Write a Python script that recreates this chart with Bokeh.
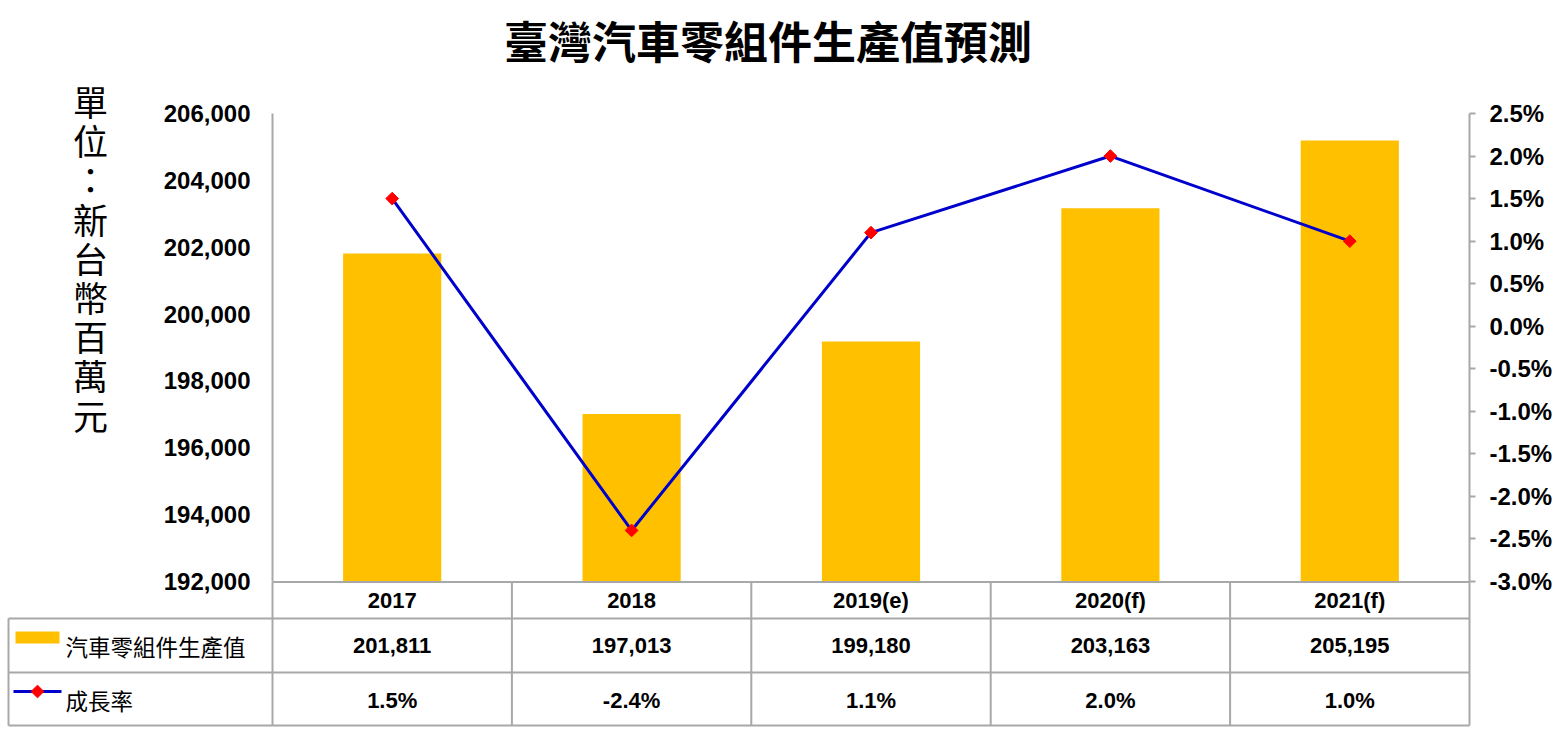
import numpy as np
from bokeh.plotting import figure
from bokeh.models import (FactorRange, Range1d, LinearAxis, FixedTicker, PrintfTickFormatter,
                          NumeralTickFormatter)
from bokeh.core.properties import value
from bokeh.embed import file_html
from bokeh.resources import INLINE

# ---------------- data ----------------
categories = ["2017", "2018", "2019(e)", "2020(f)", "2021(f)"]
production = [201811, 197013, 199180, 203163, 205195]   # 新台幣百萬元
growth = [1.5, -2.4, 1.1, 2.0, 1.0]                       # %
left_ticks = list(range(192000, 206001, 2000))
right_ticks = [-3.0, -2.5, -2.0, -1.5, -1.0, -0.5, 0.0, 0.5, 1.0, 1.5, 2.0, 2.5]
title_text = "臺灣汽車零組件生產值預測"
ylabel_text = "單位：新台幣百萬元"
series_names = ["汽車零組件生產值", "成長率"]

# ---------------- style / layout (page pixels) ----------------
BAR = "#FFC000"
LINE = "#0000CC"
MARK = "#FF0000"
GRAY = "#A8A8A8"
NUMFONT = "Liberation Sans"
CJK = "Noto Sans CJK TC"

W, H = 1557, 730
FR_L, FR_R = 272, 1469             # frame left/right (page x)
FR_T, AX_B, FR_B = 113, 581, 727   # frame top, axis bottom, frame bottom (page y)
COL = (FR_R - FR_L) / len(categories)

lo, hi = left_ticks[0], left_ticks[-1]
k = (hi - lo) / (AX_B - FR_T)                     # value per px (left)
plo, phi = right_ticks[0], right_ticks[-1]
kp = (phi - plo) / (AX_B - FR_T)                  # value per px (right)


def xpx(xpage):
    return (xpage - FR_L) / COL


def ypx(ypage):
    return hi - (ypage - FR_T) * k


p = figure(width=W, height=H, x_range=FactorRange(*categories),
           y_range=Range1d(lo - (FR_B - AX_B) * k, hi),
           output_backend="svg", toolbar_location=None,
           min_border_left=FR_L, min_border_right=W - FR_R,
           min_border_top=FR_T, min_border_bottom=H - FR_B)
p.extra_y_ranges = {"pct": Range1d(plo - (FR_B - AX_B) * kp, phi)}
p.xaxis.visible = False
p.xgrid.visible = False
p.ygrid.visible = False
p.outline_line_color = None

ya = p.yaxis[0]
ya.bounds = (lo, hi)
ya.ticker = FixedTicker(ticks=left_ticks)
ya.formatter = NumeralTickFormatter(format="0,0")
ya.major_tick_in = 0
ya.major_tick_out = 0
ya.minor_tick_in = 0
ya.minor_tick_out = 0
ya.axis_line_color = GRAY
ya.axis_line_width = 2
ya.major_label_standoff = 22
ya.major_label_text_font = NUMFONT
ya.major_label_text_font_style = "bold"
ya.major_label_text_font_size = "24px"
ya.major_label_text_color = "black"

ra = LinearAxis(y_range_name="pct", ticker=FixedTicker(ticks=right_ticks),
                formatter=PrintfTickFormatter(format="%.1f%%"), bounds=(plo, phi))
ra.major_tick_in = 0
ra.major_tick_out = 6
ra.minor_tick_in = 0
ra.minor_tick_out = 0
ra.axis_line_color = GRAY
ra.axis_line_width = 2
ra.major_tick_line_color = GRAY
ra.major_tick_line_width = 2
ra.major_label_standoff = 14
ra.major_label_text_font = NUMFONT
ra.major_label_text_font_style = "bold"
ra.major_label_text_font_size = "24px"
ra.major_label_text_color = "black"
p.add_layout(ra, "right")

# ---------------- chart marks ----------------
p.vbar(x=categories, top=production, bottom=lo, width=0.41, fill_color=BAR, line_color=None)
p.line(x=categories, y=growth, y_range_name="pct", line_color=LINE, line_width=3)
p.scatter(x=categories, y=growth, y_range_name="pct", marker="square", angle=np.pi / 4,
          size=9, fill_color=MARK, line_color=MARK)

# title and stacked (vertical) unit label
chars = list(ylabel_text)
labels = [
    p.text(x=[xpx(767.5)], y=[ypx(39)], text=[title_text], text_align="center",
           text_baseline="middle", text_font=value(CJK), text_font_style="bold",
           text_font_size="44px", text_color="black"),
    p.text(x=[xpx(90)] * len(chars), y=[ypx(100 + 39.2 * i) for i in range(len(chars))],
           text=chars, text_align="center", text_baseline="middle", text_font=value(CJK),
           text_font_size="35px", text_color="black"),
]

# ---------------- data table under the chart ----------------
n = len(categories)
leg_l = xpx(8)
y_top, y_head, y_row1, y_bot = ypx(581.5), ypx(618), ypx(672), ypx(725)
y_cat = (y_top + y_head) / 2
y_val = (y_head + y_row1) / 2
y_gro = (y_row1 + y_bot) / 2 - k

lines = [
    p.segment(x0=[0, leg_l, leg_l, leg_l], x1=[n] * 4,
              y0=[y_top, y_head, y_row1, y_bot], y1=[y_top, y_head, y_row1, y_bot],
              line_color=GRAY, line_width=2),
    p.segment(x0=list(range(n + 1)), x1=list(range(n + 1)), y0=[y_bot] * (n + 1),
              y1=[y_top] * (n + 1), line_color=GRAY, line_width=2),
    p.segment(x0=[leg_l], x1=[leg_l], y0=[y_bot], y1=[y_head], line_color=GRAY, line_width=2),
]
common = dict(text_font=value(NUMFONT), text_font_style="bold", text_font_size="22px",
              text_align="center", text_baseline="middle", text_color="black")
texts = [
    p.text(x=categories, y=[y_cat] * n, text=categories, **common),
    p.text(x=categories, y=[y_val] * n, text=[f"{v:,}" for v in production], **common),
    p.text(x=categories, y=[y_gro] * n, text=[f"{g:.1f}%" for g in growth], **common),
]
keys = [
    p.rect(x=[(xpx(15) + xpx(59)) / 2], y=[ypx(637)], width=xpx(59) - xpx(15), height=12 * k,
           fill_color=BAR, line_color=None),
    p.segment(x0=[xpx(13)], x1=[xpx(61)], y0=[ypx(691)], y1=[ypx(691)],
              line_color=LINE, line_width=3),
    p.rect(x=[xpx(37)], y=[ypx(691)], width=9, height=9, width_units="screen",
           height_units="screen", angle=np.pi / 4, fill_color=MARK, line_color=MARK),
    p.text(x=[xpx(65), xpx(65)], y=[y_val, y_gro], text=series_names,
           text_font=value(CJK), text_font_size="22.5px",
           text_align="left", text_baseline="middle", text_color="black"),
]
for r in labels + lines + texts + keys:
    r.level = "overlay"

open("out.html", "w").write(file_html(p, INLINE))
